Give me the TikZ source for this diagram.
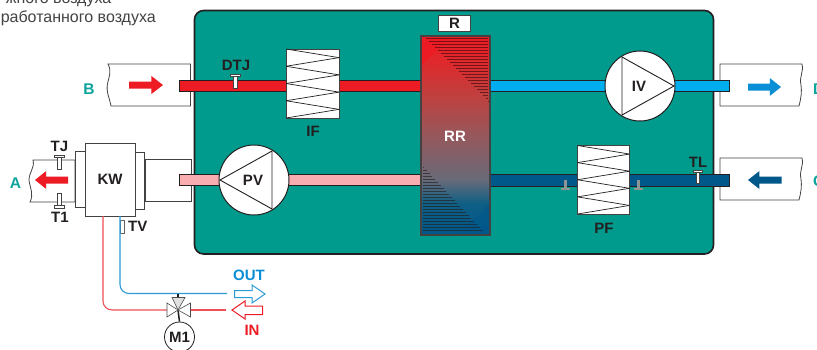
\documentclass[tikz,border=0pt]{standalone}
\usepackage{fontspec}
\setmainfont{Liberation Sans}
\usetikzlibrary{calc}
\definecolor{teal1}{HTML}{009B8D}
\definecolor{teal2}{HTML}{0BA39B}
\definecolor{ink}{HTML}{231F20}
\definecolor{red1}{HTML}{ED1C24}
\definecolor{pink1}{HTML}{F9ADB0}
\definecolor{sky1}{HTML}{00AEEF}
\definecolor{sky2}{HTML}{0A8FD6}
\definecolor{navy1}{HTML}{00578A}
\definecolor{wred}{HTML}{EF4F58}
\definecolor{wblue}{HTML}{2C9AD6}
\definecolor{sgrey}{HTML}{8F9593}
\definecolor{rra}{HTML}{0F5F85}
\definecolor{rrb}{HTML}{6A6A78}
\definecolor{rrc}{HTML}{96585C}
\definecolor{rrd}{HTML}{C0403F}
\definecolor{rre}{HTML}{DD2A2E}
\pgfdeclareverticalshading{rrshade}{100bp}{color(0bp)=(navy1);color(25bp)=(navy1);color(33bp)=(rra);color(39bp)=(rrb);color(50bp)=(rrc);color(60bp)=(rrd);color(68bp)=(rre);color(75bp)=(red1);color(100bp)=(red1)}
\tikzset{
  x=1pt,y=-1pt,
  lab/.style={font=\fontsize{15}{15}\selectfont\bfseries,text=ink,inner sep=0pt},
  ext/.style={font=\fontsize{15.5}{15}\selectfont\bfseries,text=teal2,inner sep=0pt},
  capt/.style={anchor=base east,inner sep=0pt,text=ink!85,font=\fontsize{16}{16}\selectfont},
  duct/.style={draw=ink!85,fill=white,line width=.8pt},
  pipe/.style={draw=ink,line width=.8pt},
  coil/.style={draw=ink!85,fill=white,line width=.9pt},
  fan/.style={circle,draw=ink,fill=white,line width=1pt,inner sep=0pt,minimum size=70pt},
  tblade/.style={draw=ink,line width=.9pt},
  probe/.style={draw=ink!85,fill=white,line width=.7pt},
  wire/.style={line width=1.1pt,rounded corners=9pt},
}
\newcommand{\bigarrow}[4]{% x-tail, x-tip, y, colour
  \fill[#4] (#1,#3-3.5) -- ({#1+(#2-#1)*0.66},#3-3.5) -- ({#1+(#2-#1)*0.66},#3-9) -- (#2,#3)
    -- ({#1+(#2-#1)*0.66},#3+9) -- ({#1+(#2-#1)*0.66},#3+3.5) -- (#1,#3+3.5) -- cycle;}
\newcommand{\coilzig}[4]{% x0,x1,y0,y1
  \draw[coil] (#1,#3) rectangle (#2,#4);
  \foreach \k in {0,...,7}{
    \pgfmathsetmacro{\xa}{mod(\k,2)==0 ? #1 : #2}
    \pgfmathsetmacro{\xb}{mod(\k,2)==0 ? #2 : #1}
    \draw[ink,line width=.7pt] (\xa,{#3+(#4-#3)*\k/8}) -- (\xb,{#3+(#4-#3)*(\k+1)/8});
  }}
\begin{document}
\begin{tikzpicture}
\useasboundingbox (0,0) rectangle (817,349);
\begin{scope}
\clip (0,0) rectangle (817,349);
% caption fragments
\node[capt] (cap1) at (111.5,3) {жного воздуха};
\node[capt] (cap2) at (156,22) {работанного воздуха};

% main housing
\draw[draw=ink,fill=teal1,line width=1.6pt,rounded corners=9pt] (194.5,10.5) rectangle (713.5,254);

% ducts
\draw[duct] (108,64) -- (190.5,64) -- (190.5,106) -- (111,106) .. controls (109,96) and (106,92) .. (107.5,84) .. controls (109,76) and (112,72) .. cycle;
\draw[duct] (720,64) -- (802,64) .. controls (804,72) and (799,76) .. (801,85) .. controls (802,92) and (801,98) .. (799,106) -- (720,106) -- cycle;
\draw[duct] (720,158) -- (802,158) .. controls (804,166) and (799,170) .. (801,179) .. controls (802,186) and (801,192) .. (799,200) -- (720,200) -- cycle;
\draw[duct] (33,160) -- (75,160) -- (75,202) -- (30,202) .. controls (34,194) and (30,188) .. (29,180) .. controls (29,172) and (35,168) .. cycle;
\draw[duct] (145,159.5) rectangle (191,201.5);

% pipes
\draw[pipe,fill=red1] (179,80) rectangle (421,91);
\draw[pipe,fill=sky1] (489,80) rectangle (729.5,91.5);
\draw[pipe,fill=pink1] (179,174) rectangle (421,185.5);
\draw[pipe,fill=navy1] (488,174) rectangle (729.5,186);

% KW unit
\draw[duct] (75,151) rectangle (85,207.5);
\draw[duct] (135,152.5) rectangle (144.5,209);
\node[draw=ink!85,fill=white,line width=.9pt,minimum width=50pt,minimum height=73pt,inner sep=0pt,lab] (kw) at (110,179.5) {KW};

% flow arrows
\bigarrow{129}{163}{85}{red1}
\bigarrow{68}{35}{180}{red1}
\bigarrow{748}{781}{87}{sky2}
\bigarrow{781.5}{748}{180}{navy1}

% recuperator
\shade[shading=rrshade] (421,36) rectangle (490,235);
\fill[red1] (421,36) -- (450,36) -- (421,66) -- cycle;
\fill[navy1,opacity=.6] (489,235) -- (489,205) -- (458,235) -- cycle;
\foreach \yy in {38,41,...,101} \draw[black!80!red1,line width=.8pt,opacity=.6] ({426+(\yy-38)},\yy) -- (488,\yy);
\foreach \yy in {167,170,...,232} \draw[ink,line width=.8pt,opacity=.65] (423,\yy) -- ({424+(\yy-167)*0.93},\yy);
\draw[ink!85,line width=1.3pt] (421,36) rectangle (490,235);
\node[font=\fontsize{15}{15}\selectfont\bfseries,text=white,inner sep=0pt] (rr) at (455,136) {RR};
\node[draw=ink!85,fill=white,line width=1pt,minimum width=32pt,minimum height=16pt,inner sep=0pt,lab] (r) at (454.5,23) {R};

% coils
\coilzig{286}{339}{49}{118}
\node[lab] (if) at (313,131) {IF};
\coilzig{577.5}{629.5}{145.5}{214}
\node[lab] (pf) at (604,228) {PF};

% fans
\node[fan] (iv) at (640,86) {};
\draw[tblade] (622,57) -- (674,86) -- (622,115) -- cycle;
\node[lab] (ivt) at (639,86) {IV};
\node[fan] (pv) at (254,180) {};
\draw[tblade] (272,151) -- (220,180) -- (272,209) -- cycle;
\node[lab] (pvt) at (253,180) {PV};

% probes
\draw[probe] (233.5,75) rectangle (237,88);
\draw[probe] (230.5,74) rectangle (240,76.5);
\node[lab] (dtj) at (236,65.5) {DTJ};
\draw[probe] (696.5,171) rectangle (699.5,183);
\draw[probe] (693,170) rectangle (702,172.5);
\node[lab] (tl) at (698,162.5) {TL};
\fill[sgrey] (564,180) rectangle (566.5,188);
\fill[sgrey] (561,188) rectangle (570,189.5);
\fill[sgrey] (637,180) rectangle (639.5,188);
\fill[sgrey] (634,188) rectangle (643,189.5);
\draw[probe] (57.5,156) rectangle (61,169);
\draw[probe] (54.5,155) rectangle (64,157.5);
\node[lab] (tj) at (59.5,146.5) {TJ};
\draw[probe] (57.5,193.5) rectangle (61,206);
\draw[probe] (54,205.5) rectangle (64,208);
\node[lab] (t1) at (60,217.5) {T1};
\draw[draw=ink!70,fill=white,line width=.8pt] (120.5,220) rectangle (124,233);
\node[lab,anchor=west] (tv) at (128,226.5) {TV};

% outer labels
\node[ext] (lb) at (89,89) {B};
\node[ext] (la) at (15.5,183) {A};
\node[ext,anchor=west] (ld) at (813,89) {D};
\node[ext,anchor=west] (lc) at (813,181) {C};

% valve and motor
\coordinate (vc) at (178,310);
\coordinate (rwire) at (103,216);
\coordinate (bwire) at (120,216);
\coordinate (inend) at (226,310);
\coordinate (outend) at (227,293.5);
\coordinate (vl) at (167,310);
\coordinate (vr) at (190,310);
\coordinate (vt) at (178,293.5);
\coordinate (vb) at (178,298);
\node[circle,draw=ink,fill=white,line width=.8pt,minimum size=30pt,inner sep=0pt,lab] (m1) at (179.5,337) {M1};
\draw[wire,draw=wred] (rwire) |- (vl);
\draw[wire,draw=wred,rounded corners=0pt] (vr) -- (inend);
\draw[wire,draw=wblue] (bwire) |- (outend);
\draw[ink,line width=1.5pt] (vt) -- (vb);
\draw[ink,line width=1.5pt] (vc) -- (m1.north);
\draw[draw=ink!80,fill=white,line width=.6pt] (167,303) -- (vc) -- (167,317) -- cycle;
\draw[draw=ink!80,fill=white,line width=.6pt] (190.5,303) -- (vc) -- (190.5,317) -- cycle;
\draw[draw=ink!80,fill=black!12,line width=.6pt] (172,297.5) -- (185,297.5) -- (vc) -- cycle;

% OUT / IN arrows
\draw[wblue,fill=white,line width=1pt] (234.5,290.5) -- (252,290.5) -- (252,285) -- (265,294) -- (252,303) -- (252,297.5) -- (234.5,297.5) -- cycle;
\draw[red1,fill=white,line width=1pt] (262.5,306) -- (245,306) -- (245,301) -- (232,310) -- (245,319) -- (245,314.5) -- (262.5,314.5) -- cycle;
\node[lab,text=sky2] (out) at (249,275.5) {OUT};
\node[lab,text=red1] (in) at (252,330) {IN};
\end{scope}
\end{tikzpicture}
\end{document}
